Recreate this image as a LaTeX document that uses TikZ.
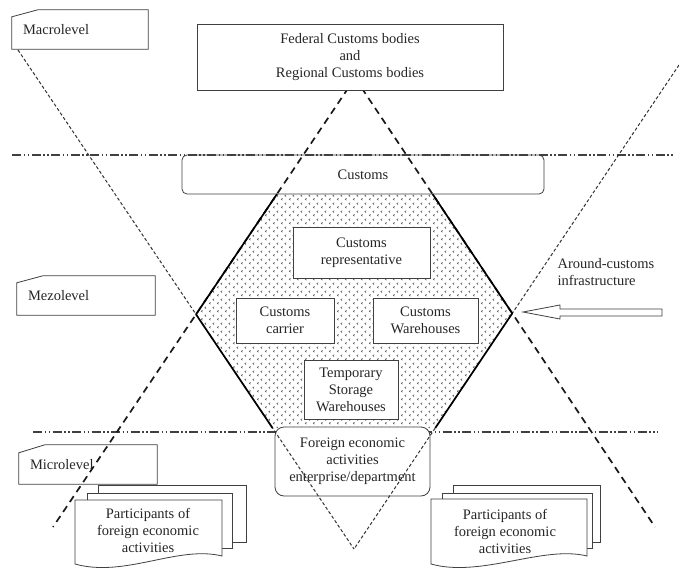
\documentclass[tikz,border=0pt]{standalone}
\usepackage{fontspec}
\setmainfont{Liberation Serif}
\usetikzlibrary{calc,patterns,patterns.meta}

\tikzdeclarepattern{
  name=chevs,
  type=uncolored,
  bounding box={(0pt,0pt) and (8pt,8pt)},
  tile size={(8pt,8pt)},
  code={
    \draw[line width=0.6pt] (2.8pt,1pt) -- (1.4pt,2pt) -- (2.8pt,3pt);
    \draw[line width=0.6pt] (6.8pt,5pt) -- (5.4pt,6pt) -- (6.8pt,7pt);
  }
}

\begin{document}
\begin{tikzpicture}[x=1pt,y=-1pt,
  every node/.style={font=\fontsize{14.5}{17}\selectfont, text=black!85},
  box/.style={draw=black!75, line width=0.8pt, fill=white, inner sep=0pt, align=center},
  rbox/.style={box, rounded corners=6pt},
  lvl/.style={inner xsep=11pt, inner ysep=0pt, align=left},
  lvlline/.style={draw=black!75, line width=0.8pt},
  thindot/.style={draw=black!80, line width=1pt, dash pattern=on 3.2pt off 2.2pt},
  thickdash/.style={draw=black!90, line width=1.7pt, dash pattern=on 7pt off 5pt},
  dashdot/.style={draw=black!75, line width=1.3pt, dash pattern=on 9pt off 2.5pt on 1.5pt off 2.5pt on 1.5pt off 2.5pt},
  hexedge/.style={draw=black, line width=1.7pt, line join=round},
  doc/.style={draw=black!75, line width=0.8pt, fill=white},
]
\useasboundingbox (0,0) rectangle (679,569);
\fill[white] (0,0) rectangle (679,569);

% triangle corners
\coordinate (A) at (355,78);
\coordinate (BL) at (53,527);
\coordinate (BR) at (655,527);
\coordinate (TL) at (18,50);
\coordinate (TR) at (679,65);
\coordinate (BOT) at (354,549);
\coordinate (u1) at (0,194); \coordinate (u2) at (679,194);
\coordinate (d1) at (0,428); \coordinate (d2) at (679,428);
\coordinate (H1) at (intersection of A--BL and u1--u2);
\coordinate (H2) at (intersection of A--BR and u1--u2);
\coordinate (H3) at (intersection of A--BR and TR--BOT);
\coordinate (H4) at (intersection of TR--BOT and d1--d2);
\coordinate (H5) at (intersection of TL--BOT and d1--d2);
\coordinate (H6) at (intersection of A--BL and TL--BOT);

% hexagon texture
\fill[pattern=chevs, pattern color=black!70] (H1) -- (H2) -- (H3) -- (H4) -- (H5) -- (H6) -- cycle;

% level boxes
\node[lvl, text width=114pt, minimum height=39pt] (macro) at (80,29.5) {Macrolevel};
\draw[lvlline] (macro.south west) -- ([yshift=-7pt]macro.north west) -- ([xshift=26pt]macro.north west) -- (macro.north east) -- (macro.south east) -- cycle;
\node[lvl, text width=116pt, minimum height=39pt] (mezo) at (86,295.5) {Mezolevel};
\draw[lvlline] (mezo.south west) -- ([yshift=-7pt]mezo.north west) -- ([xshift=26pt]mezo.north west) -- (mezo.north east) -- (mezo.south east) -- cycle;
\node[lvl, text width=116pt, minimum height=39pt] (micro) at (88,464.5) {Microlevel};
\draw[lvlline] (micro.south west) -- ([yshift=-8pt]micro.north west) -- ([xshift=26pt]micro.north west) -- (micro.north east) -- (micro.south east) -- cycle;

% participants (multi-document)
\draw[doc] (98,485) rectangle (246,542);
\draw[doc] (87,493) rectangle (232,548);
\draw[doc] (75,500) -- (222,500) -- (222,556) .. controls (178,545) and (125,578) .. (75,564) -- cycle;
\node[align=center] (partL) at (148,530) {Participants of\\foreign economic\\activities};
\draw[doc] (453,485) rectangle (600,542);
\draw[doc] (442,493) rectangle (592,548);
\draw[doc] (431,499) -- (587,499) -- (587,556) .. controls (543,545) and (481,578) .. (431,564) -- cycle;
\node[align=center] (partR) at (505,531) {Participants of\\foreign economic\\activities};

% dash-dot level separators
\coordinate (s1a) at (12,155); \coordinate (s1b) at (675,155);
\coordinate (s2a) at (33,432); \coordinate (s2b) at (658,432);
\draw[dashdot] (s1a) -- (s1b);
\draw[dashdot] (s2a) -- (s2b);

% upward triangle (thick dashed)
\draw[thickdash] (A) -- (BL);
\draw[thickdash] (A) -- (BR);

% boxes
\node[box, minimum width=306pt, minimum height=66pt] (fed) at (350,57) {Federal Customs bodies\\and\\Regional Customs bodies};
\node[rbox, fill=none, rounded corners=5pt, minimum width=362pt, minimum height=39pt] (cust) at (363,174.5) {Customs};
\node[rbox, rounded corners=9pt, minimum width=155pt, minimum height=69pt] (fea) at (352.5,461.5) {Foreign economic\\activities\\enterprise/department};

% downward triangle (thin dotted)
\draw[thindot] (TL) -- (BOT);
\draw[thindot] (TR) -- (BOT);

% hexagon edges
\draw[hexedge] (H1) -- (H6) -- (H5);
\draw[hexedge] (H2) -- (H3) -- (H4);

% inner boxes
\node[box, minimum width=137pt, minimum height=51pt] (rep) at (361.5,252.5) {Customs\\representative};
\node[box, minimum width=98pt, minimum height=45pt] (car) at (285,320.5) {Customs\\carrier};
\node[box, minimum width=105pt, minimum height=45pt] (wh) at (425.5,320.5) {Customs\\Warehouses};
\node[box, minimum width=94pt, minimum height=59pt] (tsw) at (351,389.5) {Temporary\\Storage\\Warehouses};

% around-customs arrow
\node[anchor=west, align=left] (arnd) at (554,272) {Around-customs\\infrastructure};
\coordinate (arrtip) at (523,312);
\draw[draw=black!75, line width=0.8pt, fill=white] (arrtip) -- (560,305) -- (560,309) -- (662,309) -- (662,316) -- (560,316) -- (560,319) -- cycle;
\end{tikzpicture}
\end{document}
